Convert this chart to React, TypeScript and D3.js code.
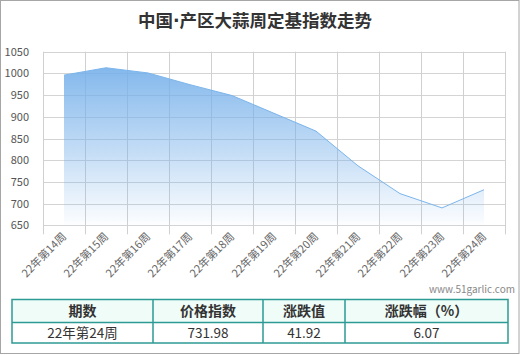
import React from "react";
import * as d3 from "d3";

const categories = ["22年第14周","22年第15周","22年第16周","22年第17周","22年第18周","22年第19周","22年第20周","22年第21周","22年第22周","22年第23周","22年第24周"];
const values = [996, 1013, 1001, 974, 949, 908, 867, 787, 723, 690.06, 731.98];
const yTicks = [650, 700, 750, 800, 850, 900, 950, 1000, 1050];
const tableHeaders = ["期数", "价格指数", "涨跌值", "涨跌幅（%）"];
const tableRow = ["22年第24周", "731.98", "41.92", "6.07"];
const title = "中国·产区大蒜周定基指数走势";
const watermark = "www.51garlic.com";

const FONT = "'Noto Sans CJK SC', 'Microsoft YaHei', sans-serif";

export default function App() {
  const W = 520, H = 355;
  const left = 43, right = 505, top = 51.7, bottom = 225.3;
  const x = d3.scaleBand<string>().domain(categories).range([left, right]);
  const y = d3.scaleLinear().domain([650, 1050]).range([bottom, top]);
  const cx = (c: string) => (x(c) as number) + x.bandwidth() / 2;
  const pts = categories.map((c, i) => [cx(c), y(values[i])] as [number, number]);
  const area = d3.area<[number, number]>().x(d => d[0]).y0(y(650)).y1(d => d[1])(pts) || "";
  const line = d3.line<[number, number]>().x(d => d[0]).y(d => d[1])(pts) || "";
  const edges = categories.map(c => x(c) as number).concat([right]);

  const colX = [12, 153, 263, 345, 508];
  const tTop = 299.5, tMid = 322.5, tBot = 343;
  const teal = "#2e9a94";
  const titleParts = title.split("·");

  return (
    <div style={{ position: "fixed", left: 0, top: 0 }}>
      <svg width={W} height={H} style={{ display: "block", fontFamily: FONT }}>
        <defs>
          <linearGradient id="ag" gradientUnits="userSpaceOnUse" x1="0" y1={y(1013)} x2="0" y2={y(650)}>
            <stop offset="0" stopColor="rgb(118,176,234)" />
            <stop offset="1" stopColor="rgb(118,176,234)" stopOpacity="0.02" />
          </linearGradient>
        </defs>
        <rect x={0} y={0} width={W} height={H} fill="#fff" />
        <rect x={0.5} y={0.5} width={518.5} height={353} fill="none" stroke="#a6a6a6" strokeWidth={1} />
        <text x={255} y={27} textAnchor="middle" fontSize={17.5} fontWeight="bold" fill="#333">
          <tspan>{titleParts[0]}</tspan>
          <tspan fontFamily="'DejaVu Sans', sans-serif">·</tspan>
          <tspan>{titleParts[1]}</tspan>
        </text>

        {yTicks.map(t => (
          <g key={t}>
            <line x1={left} x2={right} y1={Math.round(y(t)) + 0.5} y2={Math.round(y(t)) + 0.5} stroke="#d4d4d4" />
            <text x={29} y={y(t) + 4} textAnchor="end" fontSize={11} fill="#555">{t}</text>
          </g>
        ))}
        {edges.map((e, i) => (
          <line key={i} x1={Math.round(e) + 0.5} x2={Math.round(e) + 0.5} y1={top} y2={bottom + 9} stroke="#d0d0d0" />
        ))}
        <path d={area} fill="url(#ag)" opacity={0.9} />
        <path d={line} fill="none" stroke="#7cb5ec" strokeWidth={1} />

        {categories.map(c => (
          <text key={c} transform={`translate(${cx(c) + 3},${bottom + 12}) rotate(-45)`} textAnchor="end" fontSize={11} fill="#666">{c}</text>
        ))}

        <text x={515} y={293} textAnchor="end" fontSize={10} fill="#888">{watermark}</text>

        <rect x={colX[0]} y={tTop} width={colX[4] - colX[0]} height={tMid - tTop} fill="#effcf8" />
        <rect x={colX[0]} y={tTop} width={colX[4] - colX[0]} height={tBot - tTop} fill="none" stroke={teal} strokeWidth={1.5} />
        <line x1={colX[0]} x2={colX[4]} y1={tMid} y2={tMid} stroke={teal} strokeWidth={1.5} />
        {colX.slice(1, 4).map((cxx, i) => (
          <line key={i} x1={cxx} x2={cxx} y1={tTop} y2={tBot} stroke={teal} strokeWidth={1.5} />
        ))}
        {tableHeaders.map((h, i) => (
          <text key={h} x={(colX[i] + colX[i + 1]) / 2} y={(tTop + tMid) / 2 + 5} textAnchor="middle" fontSize={14} fontWeight="bold" fill="#333">{h}</text>
        ))}
        {tableRow.map((v, i) => (
          <text key={i} x={(colX[i] + colX[i + 1]) / 2} y={(tMid + tBot) / 2 + 5} textAnchor="middle" fontSize={13.5} fill="#333">{v}</text>
        ))}
      </svg>
    </div>
  );
}
